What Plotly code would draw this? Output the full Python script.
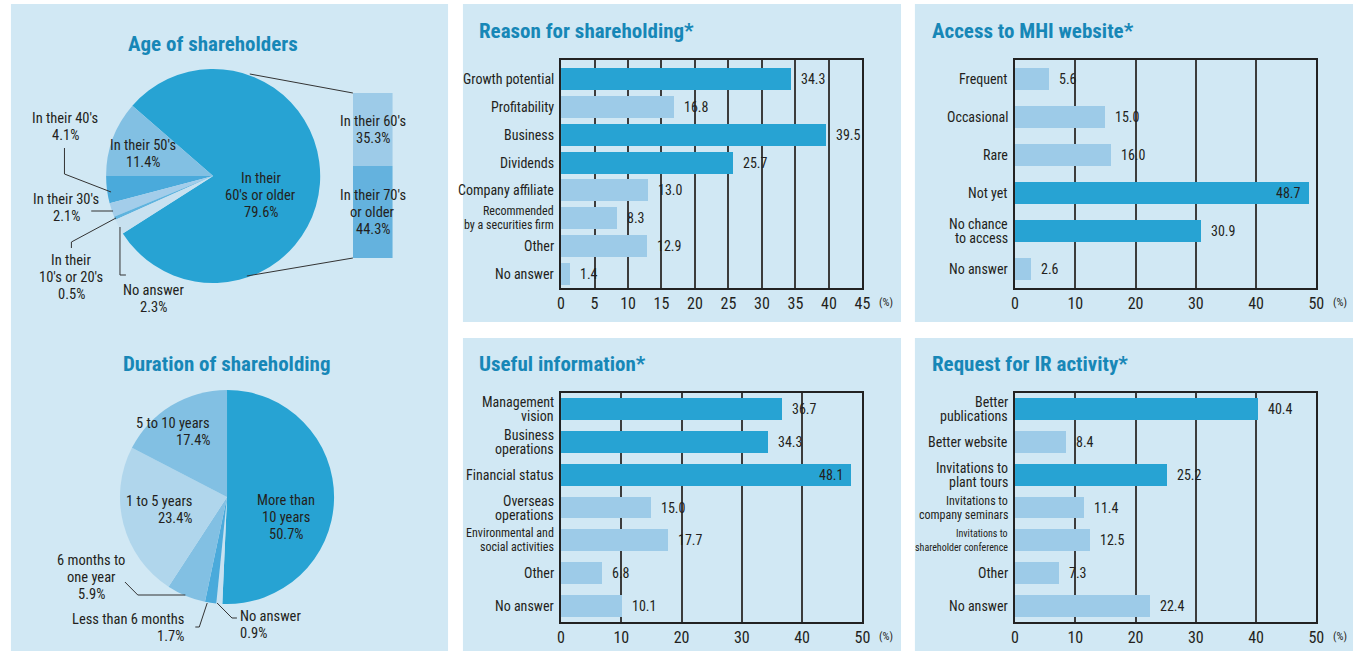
import plotly.graph_objects as go

W, H = 1364, 651

# ---------------- data ----------------
age_labels = ["In their 60's or older", "In their 50's", "In their 40's",
              "In their 30's", "In their 10's or 20's", "No answer"]
age_values = [79.6, 11.4, 4.1, 2.1, 0.5, 2.3]

age_split_labels = ["In their 70's or older", "In their 60's"]
age_split_values = [44.3, 35.3]

dur_labels = ["More than 10 years", "No answer", "Less than 6 months",
              "6 months to one year", "1 to 5 years", "5 to 10 years"]
dur_values = [50.7, 0.9, 1.7, 5.9, 23.4, 17.4]

reason_cats = ["Growth potential", "Profitability", "Business", "Dividends",
               "Company affiliate", "Recommended\nby a securities firm",
               "Other", "No answer"]
reason_vals = [34.3, 16.8, 39.5, 25.7, 13.0, 8.3, 12.9, 1.4]
reason_main = ["Growth potential", "Business", "Dividends"]

access_cats = ["Frequent", "Occasional", "Rare", "Not yet",
               "No chance\nto access", "No answer"]
access_vals = [5.6, 15.0, 16.0, 48.7, 30.9, 2.6]
access_main = ["Not yet", "No chance\nto access"]

useful_cats = ["Management\nvision", "Business\noperations", "Financial status",
               "Overseas\noperations", "Environmental and\nsocial activities",
               "Other", "No answer"]
useful_vals = [36.7, 34.3, 48.1, 15.0, 17.7, 6.8, 10.1]
useful_main = ["Management\nvision", "Business\noperations", "Financial status"]

ir_cats = ["Better\npublications", "Better website", "Invitations to\nplant tours",
           "Invitations to\ncompany seminars", "Invitations to\nshareholder conference",
           "Other", "No answer"]
ir_vals = [40.4, 8.4, 25.2, 11.4, 12.5, 7.3, 22.4]
ir_main = ["Better\npublications", "Invitations to\nplant tours"]

# ---------------- style ----------------
FONT = "Roboto Condensed, DejaVu Sans Condensed, sans-serif"
TXT = "#231f20"
TITLE = "#1787b7"
PANEL = "#d1e8f4"
DARK = "#27a3d3"
LIGHT = "#9dcbe8"
PIE_SIZE = 14.5
CAT_SIZE = 14
VAL_SIZE = 14
SMALL_LABELS = {"Recommended\nby a securities firm": 12,
                "Environmental and\nsocial activities": 12,
                "Invitations to\ncompany seminars": 12,
                "Invitations to\nshareholder conference": 10}


def px(x):
    return x / W


def py(y):
    return 1 - y / H


fig = go.Figure()
shapes = []
annotations = []

# background panels
for x0, y0, x1, y1 in [(7, 4, 448, 651), (463, 4, 905, 322), (919, 4, 1361, 322),
                       (463, 338, 905, 651), (919, 338, 1361, 651)]:
    shapes.append(dict(type="rect", xref="paper", yref="paper", layer="below",
                       x0=px(x0), x1=px(x1), y0=py(y1), y1=py(y0),
                       fillcolor=PANEL, line=dict(width=0)))


def title(text, x, y, anchor):
    annotations.append(dict(text=f"<b>{text}</b>", xref="paper", yref="paper",
                            x=px(x), y=py(y), xanchor=anchor, align=anchor, yanchor="middle",
                            showarrow=False, font=dict(family=FONT, size=21, color=TITLE)))


def lines_at(text, xref, yref, x, y, anchor, size, spacing, xshift=0):
    """Stack the lines of a label as separate annotations with tight leading."""
    parts = text.split("\n")
    n = len(parts)
    for i, part in enumerate(parts):
        annotations.append(dict(text=part, xref=xref, yref=yref, x=x, y=y,
                                xanchor=anchor, align=anchor, yanchor="middle",
                                showarrow=False, xshift=xshift,
                                yshift=((n - 1) / 2 - i) * spacing,
                                font=dict(family=FONT, size=size, color=TXT)))


def label(text, x, y, anchor="center", size=PIE_SIZE):
    lines_at(text, "paper", "paper", px(x), py(y), anchor, size, 17)


def leader(points):
    path = "M " + " L ".join(f"{px(a)},{py(b)}" for a, b in points)
    shapes.append(dict(type="path", xref="paper", yref="paper", path=path,
                       line=dict(color="#333333", width=1)))


# ---------------- Age of shareholders ----------------
title("Age of shareholders", 211, 44, "center")
fig.add_trace(go.Pie(
    labels=age_labels, values=age_values, sort=False, direction="counterclockwise",
    rotation=-49, textinfo="none", hoverinfo="label+percent", showlegend=False,
    marker=dict(colors=[DARK, "#82c0e3", "#4aaadb", "#a3cdea", "#5fb3de", "#c8e1f0"],
                line=dict(width=0)),
    domain=dict(x=[px(103), px(319)], y=[py(284), py(68)])))

age_pct = dict(zip(age_labels, age_values))
label(f"In their\n60's or older\n{age_pct[age_labels[0]]}%", 259, 196)
label(f"In their 50's\n{age_pct[age_labels[1]]}%", 140, 154)
label(f"In their 40's\n{age_pct[age_labels[2]]}%", 62, 127)
label(f"In their 30's\n{age_pct[age_labels[3]]}%", 63, 208)
label(f"In their\n10's or 20's\n{age_pct[age_labels[4]]}%", 68, 277)
label(f"No answer\n{age_pct[age_labels[5]]}%", 151, 299)
leader([(61, 148), (61, 174), (108, 192)])
leader([(88, 211), (110, 211)])
leader([(68, 248), (68, 242), (113, 218)])
leader([(117, 227), (117, 275), (123, 275)])

# breakdown of the 60's-or-older slice as a stacked column
for lab, val, col in zip(age_split_labels, age_split_values, ["#64b2de", "#9dcbe8"]):
    fig.add_trace(go.Bar(x=["60+"], y=[val], name=lab, marker=dict(color=col, line=dict(width=0)),
                         width=1, xaxis="x5", yaxis="y5", showlegend=False, hoverinfo="name+y"))
base = 0
for val, txt in zip(age_split_values, ["In their 70's\nor older", "In their 60's"]):
    lines_at(f"{txt}\n{val}%", "x5", "y5", "60+", base + val / 2, "center", PIE_SIZE, 17)
    base += val
leader([(248, 74), (352, 93)])
leader([(245, 276), (352, 258)])

# ---------------- Duration of shareholding ----------------
title("Duration of shareholding", 225, 364, "center")
fig.add_trace(go.Pie(
    labels=dur_labels, values=dur_values, sort=False, direction="clockwise",
    rotation=0, textinfo="none", hoverinfo="label+percent", showlegend=False,
    marker=dict(colors=[DARK, "#c8e1f0", "#4aaadb", "#82c0e3", "#b0d6ec", "#82c0e3"],
                line=dict(width=0)),
    domain=dict(x=[px(117), px(333)], y=[py(605), py(389)])))

dur_pct = dict(zip(dur_labels, dur_values))
label(f"More than\n10 years\n{dur_pct[dur_labels[0]]}%", 284, 517)
label(f"5 to 10 years\n{dur_pct[dur_labels[5]]}%", 210, 432, "right")
label(f"1 to 5 years\n{dur_pct[dur_labels[4]]}%", 192, 510, "right")
label(f"6 months to\none year\n{dur_pct[dur_labels[3]]}%", 88, 577)
label(f"Less than 6 months\n{dur_pct[dur_labels[2]]}%", 184, 628, "right")
label(f"No answer\n{dur_pct[dur_labels[1]]}%", 236, 625, "left")
leader([(122, 582), (135, 595), (183, 595)])
leader([(205, 603), (197, 627), (193, 627)])
leader([(215, 603), (230, 618), (235, 618)])


# ---------------- horizontal bar charts ----------------
def bar_chart(n, cats, vals, main, xmax, dtick, x0, x1, y0, y1, bw, ytop, heading, hx, hy):
    sfx = "" if n == 1 else str(n)
    xa, ya = f"x{sfx}", f"y{sfx}"
    title(heading, hx, hy, "left")
    colors = [DARK if c in main else LIGHT for c in cats]
    fig.add_trace(go.Bar(y=cats, x=vals, orientation="h", width=bw,
                         marker=dict(color=colors, line=dict(width=0)),
                         xaxis=xa, yaxis=ya, showlegend=False, hoverinfo="x"))
    for c, v in zip(cats, vals):
        inside = v > 0.9 * xmax
        anchor = "right" if inside else "left"
        annotations.append(dict(text=f"{v:.1f}", xref=xa, yref=ya, x=v, y=c,
                                xanchor=anchor, align=anchor,
                                xshift=-6 if inside else 8, showarrow=False,
                                font=dict(family=FONT, size=VAL_SIZE, color=TXT)))
        lines_at(c, f"{xa} domain", ya, 0, c, "right",
                 SMALL_LABELS.get(c, CAT_SIZE), 14, xshift=-5)
    fig.layout[f"xaxis{sfx}"] = dict(
        domain=[px(x0), px(x1)], anchor=ya, range=[0, xmax], tick0=0, dtick=dtick,
        showgrid=True, gridcolor="#3c3c3c", gridwidth=1.5, zeroline=False,
        showline=True, mirror=True, linecolor="#222222", linewidth=2, ticks="",
        tickfont=dict(family=FONT, size=16, color=TXT), fixedrange=True)
    fig.layout[f"yaxis{sfx}"] = dict(
        domain=[py(y1), py(y0)], anchor=xa, type="category",
        categoryorder="array", categoryarray=cats, showticklabels=False,
        range=[len(cats) - 0.5, -ytop], showgrid=False, zeroline=False,
        showline=True, mirror=True, linecolor="#222222", linewidth=2, ticks="",
        fixedrange=True)
    label("(%)", x1 + 24, y1 + 14, size=11)


bar_chart(1, reason_cats, reason_vals, reason_main, 45, 5, 562, 866, 60, 288, 0.79, 0.68,
          "Reason for shareholding*", 477, 31)
bar_chart(2, access_cats, access_vals, access_main, 50, 10, 1020, 1324, 60, 288, 0.58, 0.5,
          "Access to MHI website*", 934, 31)
bar_chart(3, useful_cats, useful_vals, useful_main, 50, 10, 562, 866, 393, 622, 0.67, 0.5,
          "Useful information*", 477, 364)
bar_chart(4, ir_cats, ir_vals, ir_main, 50, 10, 1020, 1324, 393, 622, 0.67, 0.5,
          "Request for IR activity*", 934, 364)

fig.update_layout(
    xaxis5=dict(domain=[px(352), px(392)], anchor="y5", visible=False, range=[-0.5, 0.5],
                fixedrange=True),
    yaxis5=dict(domain=[py(258), py(93)], anchor="x5", visible=False,
                range=[0, sum(age_split_values)], fixedrange=True),
    barmode="stack",
    width=W, height=H, margin=dict(l=0, r=0, t=0, b=0),
    paper_bgcolor="white", plot_bgcolor="white",
    font=dict(family=FONT, color=TXT),
    shapes=shapes, annotations=annotations,
)

fig.write_html("out.html", config={"displayModeBar": False})
